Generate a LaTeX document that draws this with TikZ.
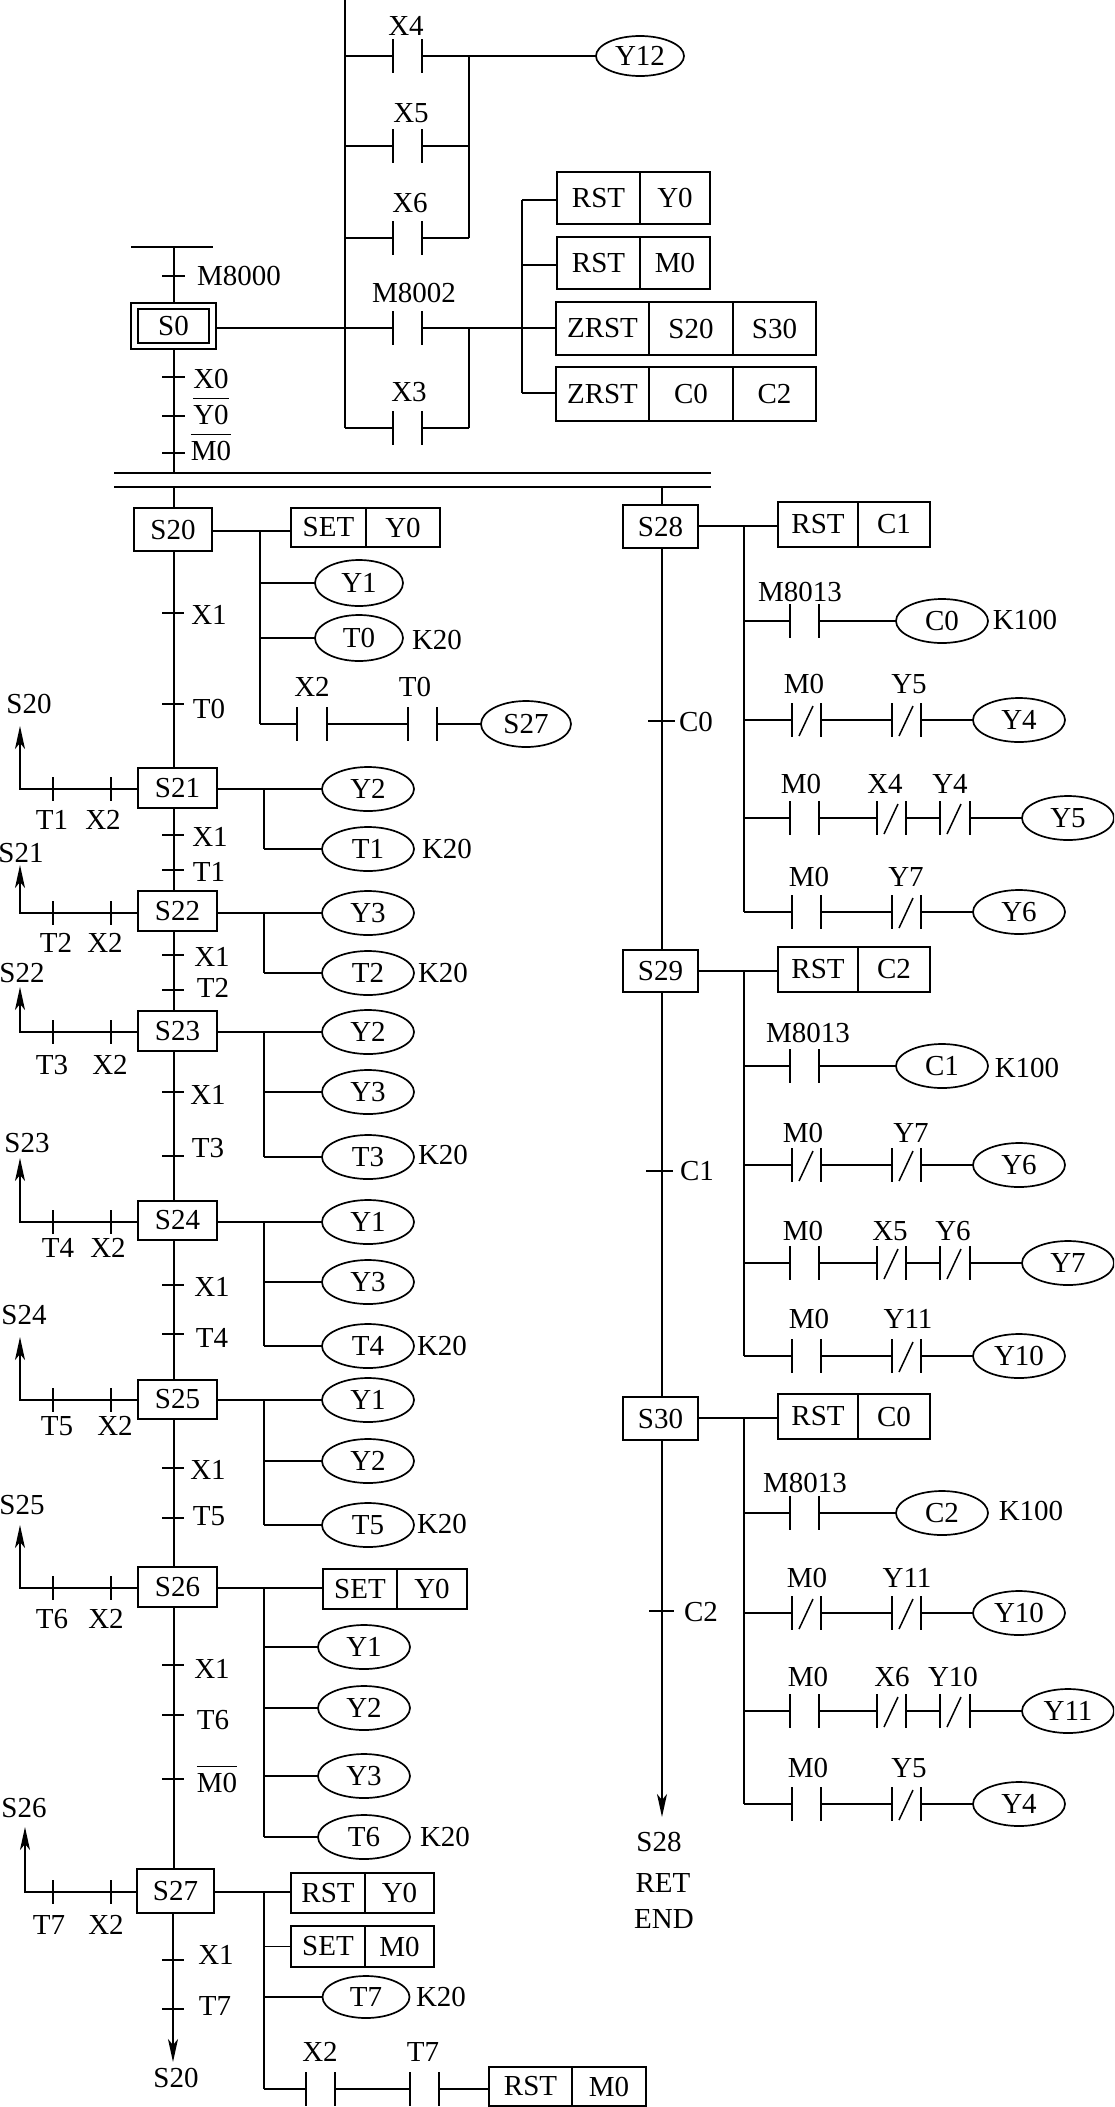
\documentclass[tikz,border=0pt]{standalone}
\usepackage{fontspec}
\setmainfont{Liberation Serif}
\usetikzlibrary{shapes.geometric,arrows.meta}
\newcounter{lblc}
\tikzset{
  every node/.style={font=\fontsize{29}{31}\selectfont,inner sep=0pt,outer sep=0pt},
  wire/.style={line width=1.8pt,line cap=butt},
  thin wire/.style={line width=1.5pt},
  boxnode/.style={draw,line width=1.8pt,rectangle},
  coilnode/.style={draw,line width=1.7pt,ellipse,minimum width=92pt,minimum height=44pt},
  arrowwire/.style={wire,-{Stealth[length=23pt,width=10pt,inset=6pt]}}
}
% text label
\newcommand\lbl[3]{\stepcounter{lblc}\node (L\thelblc) at (#1,#2) {#3};}
% label with a bar over it
\newcommand\barred[1]{\setbox0\hbox{#1}\rlap{\raisebox{25.5pt}[0pt][0pt]{\rule{\wd0}{1.5pt}}}#1}
% rectangle from x1 y1 x2 y2
\newcommand\recbox[6]{\pgfmathsetmacro\cxx{(#2+#4)/2}\pgfmathsetmacro\cyy{(#3+#5)/2}\pgfmathsetmacro\wdd{#4-#2}\pgfmathsetmacro\htt{#5-#3}\node[boxnode,minimum width=\wdd pt,minimum height=\htt pt] (#1) at (\cxx,\cyy) {#6};}
% split box: name x1 x2 x3 y1 y2 a b
\newcommand\twobox[8]{\recbox{#1a}{#2}{#5}{#3}{#6}{#7}\recbox{#1b}{#3}{#5}{#4}{#6}{#8}}
% coil
\newcommand\coil[5][]{\node[coilnode,#1] (#2) at (#3,#4) {#5};}
% horizontal wire at given y between two x references
\newcommand\hw[4]{\coordinate (#1) at (0,#4);\draw[wire] (#2 |- #1) -- (#3 |- #1);}
\newcommand\wlink[2]{\draw[wire] (#1) -- (#2);}
% contacts
\newcommand\nocontact[4]{\coordinate (#1l) at (#2,#4);\coordinate (#1r) at (#3,#4);
  \draw[thin wire] ([yshift=17pt]#1l) -- ([yshift=-17pt]#1l);
  \draw[thin wire] ([yshift=17pt]#1r) -- ([yshift=-17pt]#1r);}
\newcommand\nccontact[4]{\nocontact{#1}{#2}{#3}{#4}
  \draw[thin wire] ([xshift=7pt,yshift=-16pt]#1l) -- ([xshift=21pt,yshift=14pt]#1l);}
% transition tick on a vertical line
\newcommand\ttick[3]{\draw[thin wire] (#1,#3) -- (#2,#3);}
% side branch: name box x tipy x1 x2 y
\newcommand\branchw[7]{\coordinate (#1t) at (#3,#4);\coordinate (#1y) at (0,#7);
  \coordinate (#1c) at (#1t |- #1y);
  \draw[arrowwire] (#2.west |- #1y) -- (#1c) -- (#1t);
  \draw[thin wire] (#5,#7-12) -- (#5,#7+12);
  \draw[thin wire] (#6,#7-12) -- (#6,#7+12);}
\begin{document}
\begin{tikzpicture}[x=1pt,y=-1pt]
\useasboundingbox (0,0) rectangle (1114,2107);
\clip (0,0) rectangle (1114,2107);
\coordinate (spine) at (174,0);
\coordinate (spineR) at (662,0);
%---------- initial step
\coordinate (topbarL) at (131,247);\coordinate (topbarR) at (213,247);
\wlink{topbarL}{topbarR}
\recbox{SOo}{131}{303}{216}{349}{}
\recbox{SOi}{138}{309}{209}{343}{S0}
\wlink{spine |- topbarL}{spine |- SOo.north}
\ttick{162}{185}{276}
\lbl{239}{276}{M8000}
\ttick{162}{185}{377}\ttick{162}{185}{416}\ttick{162}{185}{453}
\lbl{211}{379}{X0}\lbl{211}{415}{\barred{Y0}}\lbl{211}{451}{\barred{M0}}
\coordinate (barAl) at (114,473);\coordinate (barAr) at (711,473);
\coordinate (barBl) at (114,487);\coordinate (barBr) at (711,487);
\wlink{barAl}{barAr}\wlink{barBl}{barBr}
\wlink{spine |- SOo.south}{spine |- barAl}
%---------- ladder at top
\coordinate (railL) at (345,0);\coordinate (railLb) at (345,428);
\wlink{railL}{railLb}
\coordinate (railRa) at (469,56);\coordinate (railRb) at (469,238);
\coordinate (railRc) at (469,328);\coordinate (railRd) at (469,428);
\wlink{railRa}{railRb}\wlink{railRc}{railRd}
\nocontact{cXiv}{393}{422}{56}\nocontact{cXv}{393}{422}{146}\nocontact{cXvi}{393}{422}{238}
\nocontact{cMa}{393}{422}{328}\nocontact{cXiii}{393}{422}{428}
\coil[minimum width=88pt,minimum height=40pt]{Ytw}{640}{56}{Y12}
\wlink{railL |- cXivl}{cXivl}\wlink{cXivr}{Ytw.west}
\wlink{railL |- cXvl}{cXvl}\wlink{cXvr}{railRa |- cXvr}
\wlink{railL |- cXvil}{cXvil}\wlink{cXvir}{railRa |- cXvir}
\wlink{railL |- cXiiil}{cXiiil}\wlink{cXiiir}{railRa |- cXiiir}
\wlink{SOo.east |- cMal}{cMal}
\lbl{406}{26}{X4}\lbl{411}{113}{X5}\lbl{410}{203}{X6}\lbl{414}{293}{M8002}\lbl{409}{392}{X3}
\twobox{rstY}{557}{640}{710}{172}{224}{RST}{Y0}
\twobox{rstM}{557}{640}{710}{237}{289}{RST}{M0}
\recbox{zrA}{556}{302}{649}{355}{ZRST}\recbox{zrB}{649}{302}{733}{355}{S20}\recbox{zrC}{733}{302}{816}{355}{S30}
\recbox{zsA}{556}{367}{649}{421}{ZRST}\recbox{zsB}{649}{367}{733}{421}{C0}\recbox{zsC}{733}{367}{816}{421}{C2}
\coordinate (busTop) at (522,200);\coordinate (busBot) at (522,393);
\wlink{busTop}{busBot}
\wlink{busTop}{rstYa.west |- busTop}
\wlink{cMar}{zrA.west |- cMar}
\hw{tRM}{busTop}{rstMa.west}{265}
\wlink{busBot}{zsA.west |- busBot}
%---------- S20
\recbox{Stw}{134}{508}{212}{551}{S20}
\wlink{spine |- barBl}{spine |- Stw.north}
\twobox{setA}{291}{366}{440}{508}{547}{SET}{Y0}
\hw{tA}{Stw.east}{setAa.west}{531}
\coordinate (bA) at (260,0);
\coil[minimum width=88pt,minimum height=46pt]{cYa}{359}{583}{Y1}
\coil[minimum width=88pt,minimum height=46pt]{cTa}{359}{638}{T0}
\nocontact{rAa}{297}{327}{724}\nocontact{rAb}{408}{437}{724}
\coil[minimum width=90pt,minimum height=46pt]{cSs}{526}{724}{S27}
\wlink{bA |- tA}{bA |- rAal}
\wlink{bA |- cYa.west}{cYa.west}\wlink{bA |- cTa.west}{cTa.west}
\wlink{bA |- rAal}{rAal}\wlink{rAar}{rAbl}\wlink{rAbr}{cSs.west}
\lbl{437}{640}{K20}\lbl{312}{687}{X2}\lbl{415}{687}{T0}
\ttick{162}{184}{613}\lbl{209}{615}{X1}
\ttick{162}{184}{704}\lbl{209}{709}{T0}
\lbl{29}{704}{S20}
%---------- S21
\recbox{Sta}{138}{768}{217}{808}{S21}
\wlink{spine |- Stw.south}{spine |- Sta.north}
\branchw{bra}{Sta}{20}{726}{53}{111}{789}
\lbl{52}{820}{T1}\lbl{103}{820}{X2}
\coordinate (bus) at (264,0);
\coil{cYb}{368}{789}{Y2}\coil{cTb}{368}{849}{T1}
\wlink{Sta.east |- cYb.west}{cYb.west}
\wlink{bus |- cYb.west}{bus |- cTb.west}\wlink{bus |- cTb.west}{cTb.west}
\lbl{447}{849}{K20}
\ttick{162}{184}{835}\lbl{210}{837}{X1}
\ttick{162}{184}{870}\lbl{209}{872}{T1}
\lbl{21}{853}{S21}
%---------- S22
\recbox{Stb}{138}{891}{217}{931}{S22}
\wlink{spine |- Sta.south}{spine |- Stb.north}
\branchw{brb}{Stb}{20}{865}{53}{111}{913}
\lbl{56}{943}{T2}\lbl{105}{943}{X2}
\coil{cYc}{368}{913}{Y3}\coil{cTc}{368}{973}{T2}
\wlink{Stb.east |- cYc.west}{cYc.west}
\wlink{bus |- cYc.west}{bus |- cTc.west}\wlink{bus |- cTc.west}{cTc.west}
\lbl{443}{973}{K20}
\ttick{162}{184}{955}\lbl{212}{957}{X1}
\ttick{162}{184}{990}\lbl{213}{988}{T2}
\lbl{22}{973}{S22}
%---------- S23
\recbox{Stc}{138}{1011}{217}{1051}{S23}
\wlink{spine |- Stb.south}{spine |- Stc.north}
\branchw{brc}{Stc}{20}{987}{53}{111}{1032}
\lbl{52}{1065}{T3}\lbl{110}{1065}{X2}
\coil{cYd}{368}{1032}{Y2}\coil{cYe}{368}{1092}{Y3}\coil{cTd}{368}{1157}{T3}
\wlink{Stc.east |- cYd.west}{cYd.west}
\wlink{bus |- cYd.west}{bus |- cTd.west}\wlink{bus |- cYe.west}{cYe.west}\wlink{bus |- cTd.west}{cTd.west}
\lbl{443}{1155}{K20}
\ttick{162}{184}{1092}\lbl{208}{1095}{X1}
\ttick{162}{184}{1156}\lbl{208}{1148}{T3}
\lbl{27}{1143}{S23}
%---------- S24
\recbox{Std}{138}{1201}{217}{1240}{S24}
\wlink{spine |- Stc.south}{spine |- Std.north}
\branchw{brd}{Std}{20}{1158}{53}{111}{1222}
\lbl{58}{1248}{T4}\lbl{108}{1248}{X2}
\coil{cYf}{368}{1222}{Y1}\coil{cYg}{368}{1282}{Y3}\coil{cTe}{368}{1346}{T4}
\wlink{Std.east |- cYf.west}{cYf.west}
\wlink{bus |- cYf.west}{bus |- cTe.west}\wlink{bus |- cYg.west}{cYg.west}\wlink{bus |- cTe.west}{cTe.west}
\lbl{442}{1346}{K20}
\ttick{162}{184}{1285}\lbl{212}{1287}{X1}
\ttick{162}{184}{1334}\lbl{212}{1338}{T4}
\lbl{24}{1315}{S24}
%---------- S25
\recbox{Ste}{138}{1380}{217}{1419}{S25}
\wlink{spine |- Std.south}{spine |- Ste.north}
\branchw{bre}{Ste}{20}{1337}{53}{111}{1400}
\lbl{57}{1426}{T5}\lbl{115}{1426}{X2}
\coil{cYh}{368}{1400}{Y1}\coil{cYi}{368}{1461}{Y2}\coil{cTf}{368}{1525}{T5}
\wlink{Ste.east |- cYh.west}{cYh.west}
\wlink{bus |- cYh.west}{bus |- cTf.west}\wlink{bus |- cYi.west}{cYi.west}\wlink{bus |- cTf.west}{cTf.west}
\lbl{442}{1524}{K20}
\ttick{162}{184}{1468}\lbl{208}{1470}{X1}
\ttick{162}{184}{1518}\lbl{209}{1516}{T5}
\lbl{22}{1505}{S25}
%---------- S26
\recbox{Stf}{138}{1567}{217}{1607}{S26}
\wlink{spine |- Ste.south}{spine |- Stf.north}
\branchw{brf}{Stf}{20}{1525}{53}{111}{1588}
\lbl{52}{1619}{T6}\lbl{106}{1619}{X2}
\twobox{setB}{323}{397}{467}{1569}{1609}{SET}{Y0}
\hw{tB}{Stf.east}{setBa.west}{1588}
\coil{cYj}{364}{1647}{Y1}\coil{cYk}{364}{1708}{Y2}\coil{cYl}{364}{1776}{Y3}\coil{cTg}{364}{1837}{T6}
\wlink{bus |- tB}{bus |- cTg.west}
\wlink{bus |- cYj.west}{cYj.west}\wlink{bus |- cYk.west}{cYk.west}\wlink{bus |- cYl.west}{cYl.west}\wlink{bus |- cTg.west}{cTg.west}
\lbl{445}{1837}{K20}
\ttick{162}{184}{1665}\lbl{212}{1669}{X1}
\ttick{162}{184}{1715}\lbl{213}{1720}{T6}
\ttick{162}{184}{1779}\lbl{217}{1783}{\barred{M0}}
\lbl{24}{1808}{S26}
%---------- S27
\recbox{Stg}{137}{1869}{214}{1913}{S27}
\wlink{spine |- Stf.south}{spine |- Stg.north}
\branchw{brg}{Stg}{25}{1827}{53}{111}{1892}
\lbl{49}{1925}{T7}\lbl{106}{1925}{X2}
\twobox{rstN}{291}{365}{434}{1873}{1913}{RST}{Y0}
\hw{tC}{Stg.east}{rstNa.west}{1892}
\twobox{setC}{291}{365}{434}{1926}{1967}{SET}{M0}
\coil[minimum width=87pt,minimum height=42pt]{cTh}{366}{1997}{T7}
\nocontact{rGa}{306}{335}{2089}\nocontact{rGb}{410}{439}{2089}
\twobox{rstP}{489}{572}{646}{2067}{2106}{RST}{M0}
\wlink{bus |- tC}{bus |- rGal}
\wlink{bus |- setCa.west}{setCa.west}\wlink{bus |- cTh.west}{cTh.west}
\wlink{bus |- rGal}{rGal}\wlink{rGar}{rGbl}\wlink{rGbr}{rstPa.west |- rGbr}
\lbl{441}{1997}{K20}\lbl{320}{2052}{X2}\lbl{423}{2052}{T7}
\ttick{162}{184}{1960}\lbl{216}{1955}{X1}
\ttick{162}{184}{2009}\lbl{215}{2006}{T7}
\coordinate (endL) at (173,2062);
\lbl{176}{2078}{S20}
\draw[arrowwire] (endL |- Stg.south) -- (endL);
%---------- S28
\recbox{Sma}{623}{505}{698}{548}{S28}
\wlink{spineR |- barBr}{spineR |- Sma.north}
\twobox{rstA}{778}{858}{930}{502}{547}{RST}{C1}
\hw{tM}{Sma.east}{rstAa.west}{526}
\coordinate (bR) at (744,0);
\nocontact{mAa}{790}{819}{621}\coil{mCa}{942}{621}{C0}
\nccontact{mBa}{792}{821}{720}\nccontact{mBb}{892}{921}{720}\coil{mCb}{1019}{720}{Y4}
\nocontact{mDa}{790}{819}{818}\nccontact{mDb}{877}{906}{818}\nccontact{mDc}{940}{970}{818}\coil{mCc}{1068}{818}{Y5}
\nocontact{mEa}{792}{821}{912}\nccontact{mEb}{892}{921}{912}\coil{mCd}{1019}{912}{Y6}
\wlink{bR |- tM}{bR |- mEal}
\wlink{bR |- mAal}{mAal}\wlink{mAar}{mCa.west}
\wlink{bR |- mBal}{mBal}\wlink{mBar}{mBbl}\wlink{mBbr}{mCb.west}
\wlink{bR |- mDal}{mDal}\wlink{mDar}{mDbl}\wlink{mDbr}{mDcl}\wlink{mDcr}{mCc.west}
\wlink{bR |- mEal}{mEal}\wlink{mEar}{mEbl}\wlink{mEbr}{mCd.west}
\lbl{800}{592}{M8013}\lbl{1025}{620}{K100}
\lbl{804}{684}{M0}\lbl{909}{684}{Y5}
\lbl{801}{784}{M0}\lbl{885}{784}{X4}\lbl{950}{784}{Y4}
\lbl{809}{877}{M0}\lbl{906}{877}{Y7}
\ttick{648}{675}{721}\lbl{696}{722}{C0}
%---------- S29
\recbox{Smb}{623}{950}{698}{992}{S29}
\wlink{spineR |- Sma.south}{spineR |- Smb.north}
\twobox{rstB}{778}{858}{930}{947}{992}{RST}{C2}
\hw{tP}{Smb.east}{rstBa.west}{971}
\nocontact{nAa}{790}{819}{1066}\coil{nCa}{942}{1066}{C1}
\nccontact{nBa}{792}{821}{1165}\nccontact{nBb}{892}{921}{1165}\coil{nCb}{1019}{1165}{Y6}
\nocontact{nDa}{790}{819}{1263}\nccontact{nDb}{877}{906}{1263}\nccontact{nDc}{940}{970}{1263}\coil{nCc}{1068}{1263}{Y7}
\nocontact{nEa}{792}{821}{1356}\nccontact{nEb}{892}{921}{1356}\coil{nCd}{1019}{1356}{Y10}
\wlink{bR |- tP}{bR |- nEal}
\wlink{bR |- nAal}{nAal}\wlink{nAar}{nCa.west}
\wlink{bR |- nBal}{nBal}\wlink{nBar}{nBbl}\wlink{nBbr}{nCb.west}
\wlink{bR |- nDal}{nDal}\wlink{nDar}{nDbl}\wlink{nDbr}{nDcl}\wlink{nDcr}{nCc.west}
\wlink{bR |- nEal}{nEal}\wlink{nEar}{nEbl}\wlink{nEbr}{nCd.west}
\lbl{808}{1033}{M8013}\lbl{1027}{1068}{K100}
\lbl{803}{1133}{M0}\lbl{911}{1133}{Y7}
\lbl{803}{1231}{M0}\lbl{890}{1231}{X5}\lbl{953}{1231}{Y6}
\lbl{809}{1319}{M0}\lbl{908}{1319}{Y11}
\ttick{646}{673}{1171}\lbl{697}{1171}{C1}
%---------- S30
\recbox{Smc}{623}{1397}{698}{1440}{S30}
\wlink{spineR |- Smb.south}{spineR |- Smc.north}
\twobox{rstC}{778}{858}{930}{1394}{1439}{RST}{C0}
\hw{tQ}{Smc.east}{rstCa.west}{1418}
\nocontact{oAa}{790}{819}{1513}\coil{oCa}{942}{1513}{C2}
\nccontact{oBa}{792}{821}{1613}\nccontact{oBb}{892}{921}{1613}\coil{oCb}{1019}{1613}{Y10}
\nocontact{oDa}{790}{819}{1711}\nccontact{oDb}{877}{906}{1711}\nccontact{oDc}{940}{970}{1711}\coil{oCc}{1068}{1711}{Y11}
\nocontact{oEa}{792}{821}{1804}\nccontact{oEb}{892}{921}{1804}\coil{oCd}{1019}{1804}{Y4}
\wlink{bR |- tQ}{bR |- oEal}
\wlink{bR |- oAal}{oAal}\wlink{oAar}{oCa.west}
\wlink{bR |- oBal}{oBal}\wlink{oBar}{oBbl}\wlink{oBbr}{oCb.west}
\wlink{bR |- oDal}{oDal}\wlink{oDar}{oDbl}\wlink{oDbr}{oDcl}\wlink{oDcr}{oCc.west}
\wlink{bR |- oEal}{oEal}\wlink{oEar}{oEbl}\wlink{oEbr}{oCd.west}
\lbl{805}{1483}{M8013}\lbl{1031}{1511}{K100}
\lbl{807}{1578}{M0}\lbl{907}{1578}{Y11}
\lbl{808}{1677}{M0}\lbl{892}{1677}{X6}\lbl{953}{1677}{Y10}
\lbl{808}{1768}{M0}\lbl{909}{1768}{Y5}
\ttick{649}{674}{1611}\lbl{701}{1612}{C2}
\coordinate (endR) at (662,1817);
\draw[arrowwire] (endR |- Smc.south) -- (endR);
\lbl{659}{1842}{S28}\lbl{663}{1883}{RET}\lbl{664}{1919}{END}
\end{tikzpicture}
\end{document}
